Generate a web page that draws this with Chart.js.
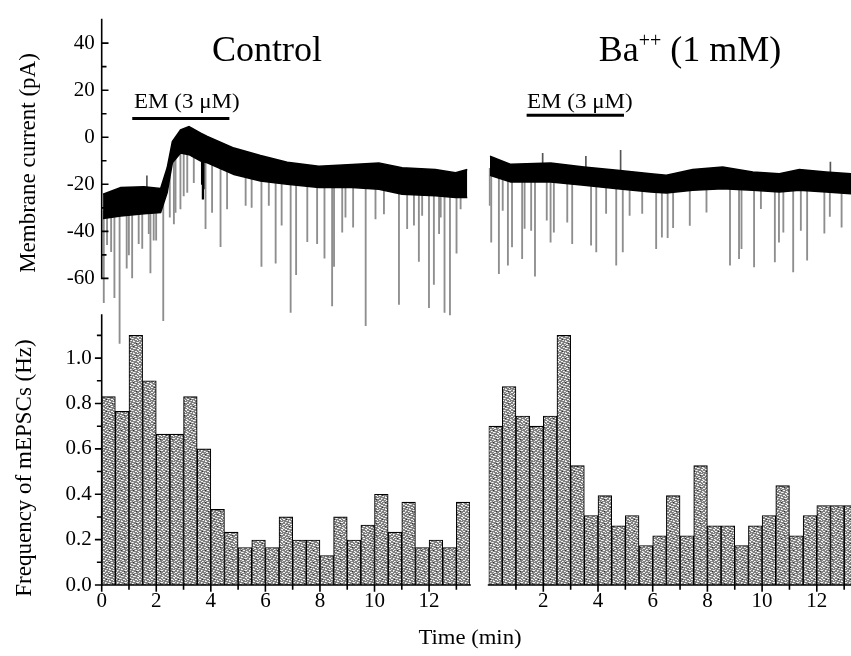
<!DOCTYPE html>
<html><head><meta charset="utf-8">
<script src="https://cdn.jsdelivr.net/npm/chart.js@4.4.0/dist/chart.umd.min.js"></script>
<style>
html,body{margin:0;padding:0;background:#fff;}
#wrap{position:relative;width:851px;height:656px;overflow:hidden;font-family:'Liberation Serif','Times New Roman',serif;color:#000;background:#fff;}
canvas{position:absolute;left:0;top:0;}
.t{position:absolute;white-space:nowrap;line-height:1;}
</style></head><body>
<div id="wrap">
<canvas id="bl" width="851" height="656"></canvas>
<canvas id="br" width="851" height="656"></canvas>
<canvas id="tl" width="851" height="656"></canvas>
<canvas id="tr" width="851" height="656"></canvas>
<div class="t" style="left:267px;top:31px;font-size:36px;transform:translateX(-50%);">Control</div>
<div class="t" style="left:690px;top:31px;font-size:36px;transform:translateX(-50%);">Ba<sup style="font-size:20px;vertical-align:14px;line-height:0;">++</sup> (1 mM)</div>
<div class="t" style="left:134px;top:91px;font-size:20px;transform:scaleX(1.15);transform-origin:left;">EM (3 μM)</div>
<div class="t" style="left:527px;top:91px;font-size:20px;transform:scaleX(1.15);transform-origin:left;">EM (3 μM)</div>
<div class="t" style="left:27px;top:163px;font-size:23px;transform:translate(-50%,-50%) rotate(-90deg);">Membrane current (pA)</div>
<div class="t" style="left:23px;top:468px;font-size:23px;transform:translate(-50%,-50%) rotate(-90deg);">Frequency of mEPSCs (Hz)</div>
<div class="t" style="left:470px;top:637px;font-size:21px;transform:translate(-50%,-50%) scaleX(1.08);">Time (min)</div>
</div>
<script>
// ---------- data ----------
// Histogram bins (0.5 min bins, bin centres in minutes)
const binMid = [0.25,0.75,1.25,1.75,2.25,2.75,3.25,3.75,4.25,4.75,5.25,5.75,6.25,6.75,7.25,7.75,8.25,8.75,9.25,9.75,10.25,10.75,11.25,11.75,12.25,12.75,13.25];
const controlFreq = [0.83,0.765,1.10,0.90,0.665,0.665,0.83,0.60,0.333,0.233,0.165,0.198,0.165,0.30,0.198,0.198,0.13,0.30,0.198,0.264,0.40,0.233,0.365,0.165,0.198,0.165,0.365];
const bariumFreq  = [0.70,0.875,0.745,0.70,0.745,1.10,0.526,0.306,0.394,0.261,0.306,0.174,0.217,0.394,0.217,0.526,0.261,0.261,0.174,0.261,0.306,0.438,0.217,0.306,0.35,0.35,0.35];

// Membrane current trace: noise band envelope (min, pA)
const ctrlEnvT    = [0.05,0.7,1.55,2.16,2.4,2.59,2.89,3.2,3.63,3.87,4.85,5.82,6.8,7.96,9.18,10.16,11.01,12.23,12.97,13.4];
const ctrlEnvTop  = [-24.2,-21.4,-21.0,-21.8,-13.0,-1.8,3.1,4.5,1.7,0.3,-4.6,-7.8,-10.6,-12.3,-11.6,-10.9,-13.0,-13.7,-15.1,-13.7];
const ctrlEnvLow  = [-34.5,-33.5,-32.5,-32.0,-23.5,-10.9,-6.7,-7.4,-10.1,-10.9,-15.8,-18.6,-20.0,-21.4,-21.4,-22.1,-24.2,-24.9,-25.6,-25.6];
const baEnvT      = [0.05,0.81,2.27,3.49,4.71,5.93,6.5,7.46,8.56,9.66,10.63,11.36,12.34,13.25];
const baEnvTop    = [-9.2,-12.6,-12.0,-13.7,-15.1,-16.5,-17.2,-14.8,-13.7,-15.8,-16.5,-14.8,-15.8,-16.5];
const baEnvLow    = [-17.2,-20.0,-20.0,-21.4,-22.8,-24.2,-24.6,-23.5,-22.8,-23.5,-24.2,-23.5,-24.2,-24.9];

// mEPSC events (downward deflections): time (min) and peak (pA)
const ctrlSpikeT = [0.12,0.24,0.39,0.51,0.70,0.96,1.04,1.16,1.40,1.53,1.77,1.83,1.95,2.04,2.30,2.54,2.69,2.75,2.93,3.05,3.18,3.42,3.85,4.09,4.40,4.64,5.32,5.54,5.90,6.17,6.42,6.64,6.97,7.17,7.58,7.94,8.21,8.49,8.56,8.86,8.98,9.26,9.72,10.08,10.39,10.94,11.24,11.49,11.67,11.79,12.04,12.22,12.41,12.47,12.61,12.81,13.05,13.2];
const ctrlSpikeV = [-70.3,-45.7,-48.6,-68.2,-87.6,-55.6,-50,-59.8,-45.2,-47.2,-41,-57.7,-43.7,-43.7,-78,-34,-36.8,-31.9,-30.5,-24.9,-23.5,-19.3,-38.9,-31.9,-46.5,-30.5,-29,-29.8,-54.9,-29,-53.5,-37.4,-74.5,-58.4,-44.4,-45.2,-51.4,-71.7,-54.9,-40.3,-34,-38.2,-80.1,-34.7,-32.6,-71,-38.9,-37.4,-52.8,-33.2,-72.4,-62.6,-41,-34,-74.5,-75.5,-49.3,-30.5];
// brief dark dip of the trace just after the peak
const ctrlDipT = [3.68,3.71,3.74];
const ctrlDipV = [-20,-26.3,-22];
const baSpikeT = [0.08,0.14,0.42,0.56,0.75,0.90,1.27,1.36,1.60,1.74,2.17,2.31,2.43,2.92,3.10,3.79,3.98,4.34,4.71,4.95,5.20,5.66,6.17,6.38,6.59,6.79,7.40,8.01,8.87,9.20,9.29,9.75,10.00,10.51,10.66,10.82,11.18,11.46,11.69,12.32,12.52,12.95];
const baSpikeV = [-29.8,-45.2,-58.4,-31.9,-54.9,-47.2,-52.1,-39.5,-40.3,-59.5,-36,-45.2,-41,-36.8,-45.8,-46.5,-49.3,-33.2,-54.9,-49.3,-34,-33.2,-47.9,-43.1,-43.3,-39.1,-38.2,-32.6,-54.9,-52.1,-47.9,-55.6,-31.2,-53.5,-45.2,-41,-57.7,-40.3,-52.8,-41.4,-34.4,-38.9];
const baDipT = [];
const baDipV = [];
// small upward transients
const ctrlUpT = [1.62];
const ctrlUpV = [-16.4];
const baUpT = [1.94,3.52,4.79,12.46];
const baUpV = [-8.0,-9.2,-6.7,-11.6];

// EM (3 µM) application bars (min) and bar level (pA)
const ctrlEM = [1.12,4.68];
const baEM = [1.39,4.95];
const emLevel = 8;

// tick values
const currentTicks = [-60,-40,-20,0,20,40];
const currentMinor = [-50,-30,-10,10,30];
const freqTicks = [0,0.2,0.4,0.6,0.8,1.0];
const freqMinor = [0.1,0.3,0.5,0.7,0.9,1.1];
const timeTicksCtrl = [0,2,4,6,8,10,12];
const timeTicksBa = [2,4,6,8,10,12];
const timeMinor = [1,3,5,7,9,11,13];

// ---------- drawing ----------
Chart.defaults.font.family = "'Liberation Serif','Times New Roman',serif";
Chart.defaults.font.size = 21;
Chart.defaults.color = '#000';
Chart.defaults.animation = false;

function interp(ts, vs, t){
  if (t <= ts[0]) return vs[0];
  for (let i=1;i<ts.length;i++){ if (t <= ts[i]) { const f=(t-ts[i-1])/(ts[i]-ts[i-1]); return vs[i-1]+f*(vs[i]-vs[i-1]); } }
  return vs[vs.length-1];
}

// stippled fill for histogram bars (fixed hand-made tile)
function makePattern(){
  const rows = [
    'gwwlgggwlggg',
    'gggggwwggwwg',
    'wlgggglggggl',
    'gggwwggwwgkg',
    'glgggwgggglw',
    'gwwgggglgggg',
    'gggglwwggwlg',
    'wlggkgggglgg',
    'ggwwgggwwggg',
    'glgggglgggwl',
    'gkgwwggggwgg',
    'lgggggwlgggw'];
  const col = {g:'#808080', w:'#f6f6f6', l:'#cfcfcf', k:'#303030'};
  const c = document.createElement('canvas'); c.width=12; c.height=12;
  const x = c.getContext('2d');
  rows.forEach((r,j)=>{ for(let i=0;i<12;i++){ x.fillStyle=col[r[i]]||col.g; x.fillRect(i,j,1,1);} });
  return x.createPattern(c,'repeat');
}
const pattern = makePattern();

const axisPlugin = {
  id: 'axisDraw',
  afterDraw(chart, args, o){
    if (!o || !o.items) return;
    const ctx = chart.ctx, xs = chart.scales.x, ys = chart.scales.y;
    ctx.save(); ctx.strokeStyle='#000'; ctx.lineWidth=1.6; ctx.lineCap='square';
    o.items.forEach(it=>{
      ctx.beginPath();
      if (it.axis==='y'){
        const px = xs.getPixelForValue(it.at);
        ctx.moveTo(px, ys.getPixelForValue(it.from)); ctx.lineTo(px, ys.getPixelForValue(it.to));
        it.major.forEach(v=>{const py=ys.getPixelForValue(v); ctx.moveTo(px,py); ctx.lineTo(px+it.dir*6,py);});
        it.minor.forEach(v=>{const py=ys.getPixelForValue(v); ctx.moveTo(px,py); ctx.lineTo(px+it.dir*4,py);});
      } else {
        const py = ys.getPixelForValue(it.at);
        ctx.moveTo(xs.getPixelForValue(it.from), py); ctx.lineTo(xs.getPixelForValue(it.to), py);
        it.major.forEach(v=>{const px=xs.getPixelForValue(v); ctx.moveTo(px,py); ctx.lineTo(px,py+it.dir*6);});
        it.minor.forEach(v=>{const px=xs.getPixelForValue(v); ctx.moveTo(px,py); ctx.lineTo(px,py+it.dir*4);});
      }
      ctx.stroke();
    });
    ctx.restore();
  }
};

function traceDatasets(envT, envTop, envLow, spT, spV, dipT, dipV, upT, upV, em){
  return [
    {type:'line', data: envT.map((t,i)=>({x:t,y:envTop[i]})), borderColor:'#000', borderWidth:1.5, backgroundColor:'#000', fill:'+1', pointRadius:0, tension:0, order:0},
    {type:'line', data: envT.map((t,i)=>({x:t,y:envLow[i]})), borderColor:'#000', borderWidth:1.5, fill:false, pointRadius:0, tension:0, order:0},
    {type:'bar', data: spT.map((t,i)=>({x:t, y:[spV[i], interp(envT, envLow, t)+3]})), backgroundColor:'#8e8e8e', barThickness:1.2, order:1},
    {type:'bar', data: dipT.map((t,i)=>({x:t, y:[dipV[i], interp(envT, envLow, t)+3]})), backgroundColor:'#000', barThickness:1.6, order:1},
    {type:'bar', data: upT.map((t,i)=>({x:t, y:[interp(envT, envTop, t)-2, upV[i]]})), backgroundColor:'#555', barThickness:1, order:1},
    {type:'line', data: [{x:em[0],y:emLevel},{x:em[1],y:emLevel}], borderColor:'#000', borderWidth:3, pointRadius:0, fill:false, order:0}
  ];
}

const common = {
  responsive:false, animation:false,
  plugins:{legend:{display:false}, tooltip:{enabled:false}},
};

// Top-left: control trace
new Chart(document.getElementById('tl'), {
  type:'bar',
  data:{datasets: traceDatasets(ctrlEnvT, ctrlEnvTop, ctrlEnvLow, ctrlSpikeT, ctrlSpikeV, ctrlDipT, ctrlDipV, ctrlUpT, ctrlUpV, ctrlEM)},
  options:{...common,
    layout:{padding:{left:0, top:15, right:851-470, bottom:656-349}},
    scales:{
      x:{type:'linear', min:0, max:13.5, display:false, offset:false, grid:{offset:false}},
      y:{type:'linear', min:-90, max:50,
        grid:{display:false, drawTicks:false}, border:{display:false},
        afterBuildTicks: s=>{ s.ticks = currentTicks.map(v=>({value:v})); },
        afterFit: s=>{ s.width = 101.7; },
        ticks:{padding:7, callback: v=>String(v), font:{size:21}}}
    },
    plugins:{...common.plugins, axisDraw:{items:[{axis:'y', at:0, from:50, to:-60, major:currentTicks, minor:currentMinor, dir:1}]}}
  },
  plugins:[axisPlugin]
});

// Top-right: Ba++ trace
new Chart(document.getElementById('tr'), {
  type:'bar',
  data:{datasets: traceDatasets(baEnvT, baEnvTop, baEnvLow, baSpikeT, baSpikeV, baDipT, baDipV, baUpT, baUpV, baEM)},
  options:{...common,
    layout:{padding:{left:488.6, top:15, right:0, bottom:656-349}},
    scales:{
      x:{type:'linear', min:0, max:13.25, display:false, offset:false, grid:{offset:false}},
      y:{type:'linear', min:-90, max:50, display:false}
    }
  }
});

function freqChart(id, freq, padLeft, xmax, showY, xTicks){
  const items = [{axis:'x', at:0, from:0, to:xmax, major:xTicks, minor:timeMinor, dir:1}];
  if (showY) items.push({axis:'y', at:0, from:0, to:1.19, major:freqTicks, minor:freqMinor, dir:-1});
  const yScale = showY ? {type:'linear', min:0, max:1.19, grid:{display:false, drawTicks:false}, border:{display:false},
           afterBuildTicks: s=>{ s.ticks = freqTicks.map(v=>({value:v})); },
           afterFit: s=>{ s.width = 101.7; },
           ticks:{padding:10, callback:v=>v.toFixed(1), font:{size:21}}}
         : {type:'linear', min:0, max:1.19, display:false};
  new Chart(document.getElementById(id), {
    type:'bar',
    data:{datasets:[{data: binMid.map((x,i)=>({x, y:freq[i]})), backgroundColor:pattern, borderColor:'#000', borderWidth:1.1, barPercentage:1, categoryPercentage:1, borderSkipped:'start'}]},
    options:{...common,
      layout:{padding:{left:padLeft, top:315, right: showY ? 851-470 : 0, bottom:0}},
      scales:{
        x:{type:'linear', min:0, max:xmax, offset:false, grid:{display:false, drawTicks:false, offset:false}, border:{display:false},
           afterBuildTicks: s=>{ s.ticks = xTicks.map(v=>({value:v})); },
           afterFit: s=>{ s.height = 71; },
           ticks:{padding:4, callback:v=>String(v), maxRotation:0, autoSkip:false, font:{size:21}}},
        y: yScale
      },
      plugins:{...common.plugins, axisDraw:{items}}
    },
    plugins:[axisPlugin]
  });
}
freqChart('bl', controlFreq, 0, 13.5, true, timeTicksCtrl);
freqChart('br', bariumFreq, 488.6, 13.25, false, timeTicksBa);
</script>
</body></html>
